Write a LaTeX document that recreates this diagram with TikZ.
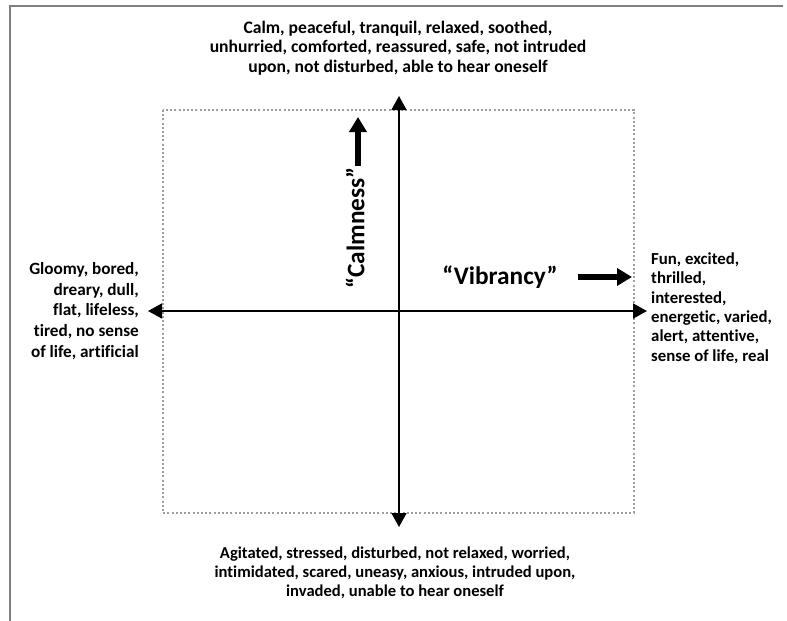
\documentclass[tikz,border=0pt]{standalone}
\usepackage{fontspec}
\setmainfont{Carlito}[Ligatures=NoCommon]
\usetikzlibrary{arrows.meta}
\definecolor{framegray}{HTML}{7F7F7F}
\definecolor{dotgray}{HTML}{9E9E9E}
\tikzset{
  axis/.style={line width=1.8pt, draw=black, {Triangle[length=14pt,width=15pt]}-{Triangle[length=14pt,width=15pt]}},
  bigarrow/.style={line width=6pt, draw=black, -{Triangle[length=15pt,width=17pt]}},
  desc/.style={inner sep=0pt},
  dimlabel/.style={font=\fontsize{25.3}{27}\selectfont\bfseries, inner sep=0pt},
}
\begin{document}
\begin{tikzpicture}[x=1pt,y=-1pt]
\useasboundingbox (0,0) rectangle (787,621);
% frame
\draw[framegray, line width=1.5pt] (10,621) -- (10,6) -- (783,6);
% dotted rectangle
\draw[dotgray, line width=2.2pt, dash pattern=on 2pt off 2.2pt] (163,110) rectangle (634,513);
% axes
\coordinate (ctop) at (399,96);
\coordinate (cbot) at (399,527);
\coordinate (cleft) at (148,311);
\coordinate (cright) at (647,311);
\draw[axis] (cbot) -- (ctop);
\draw[axis] (cleft) -- (cright);
% texts
\node[desc, align=center, font=\fontsize{17.6}{19.6}\selectfont\bfseries] (toptext) at (398,48) {Calm, peaceful, tranquil, relaxed, soothed,\\unhurried, comforted, reassured, safe, not intruded\\upon, not disturbed, able to hear oneself};
\node[desc, align=center, font=\fontsize{16.6}{19.2}\selectfont\bfseries] (bottext) at (395,573) {Agitated, stressed, disturbed, not relaxed, worried,\\intimidated, scared, uneasy, anxious, intruded upon,\\invaded, unable to hear oneself};
\node[desc, align=right, anchor=east, font=\fontsize{17.2}{20.6}\selectfont\bfseries] (lefttext) at (139,311) {Gloomy, bored,\\dreary, dull,\\flat, lifeless,\\tired, no sense\\of life, artificial};
\node[desc, align=left, anchor=west, font=\fontsize{16.8}{19.4}\selectfont\bfseries] (righttext) at (651,308) {Fun, excited,\\thrilled,\\interested,\\energetic, varied,\\alert, attentive,\\sense of life, real};
% dimension labels
\node[dimlabel, rotate=90] (calm) at (355,228) {“Calmness”};
\node[dimlabel] (vib) at (500,277) {“Vibrancy”};
\coordinate (calmA) at (358,166);
\coordinate (calmB) at (358,117);
\coordinate (vibA) at (578,277);
\coordinate (vibB) at (632,277);
\draw[bigarrow] (calmA) -- (calmB);
\draw[bigarrow] (vibA) -- (vibB);
\end{tikzpicture}
\end{document}
